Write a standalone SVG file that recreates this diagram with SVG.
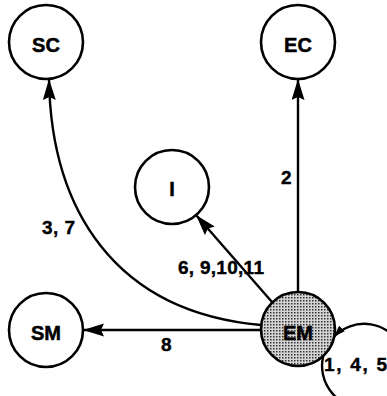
<svg xmlns="http://www.w3.org/2000/svg" width="387" height="396" viewBox="0 0 387 396">
<style>
.node{fill:#fff;stroke:#000;stroke-width:2.6}
.lbl{font-family:"Liberation Sans",Arial,sans-serif;font-weight:bold;font-size:20px;fill:#000;stroke:#000;stroke-width:0.5;text-anchor:middle}
.elbl{font-family:"Liberation Sans",Arial,sans-serif;font-weight:bold;font-size:19px;fill:#000;stroke:#000;stroke-width:0.4}
.edge{fill:none;stroke:#000;stroke-width:2.4}
</style>
<defs>
<marker id="arr" markerUnits="userSpaceOnUse" markerWidth="22" markerHeight="14" refX="21" refY="6.5" orient="auto">
<path d="M0,0 L21,6.5 L0,13 L3,6.5 z" fill="#000"/>
</marker>
<marker id="arrs" markerUnits="userSpaceOnUse" markerWidth="12" markerHeight="9" refX="11" refY="4" orient="auto">
<path d="M0,0 L11,4 L0,8 z" fill="#000"/>
</marker>
<pattern id="dots" patternUnits="userSpaceOnUse" width="3" height="3">
<rect width="3" height="3" fill="#d4d4d4"/>
<rect width="1.5" height="1.5" fill="#333"/>
</pattern>
</defs>
<g id="SC"><circle class="node" cx="46" cy="42" r="37"/><text class="lbl" x="46" y="52">SC</text></g>
<g id="EC"><circle class="node" cx="298" cy="42" r="37"/><text class="lbl" x="298" y="52">EC</text></g>
<g id="I"><circle class="node" cx="172" cy="187" r="37"/><text class="lbl" x="172" y="196">I</text></g>
<g id="SM"><circle class="node" cx="46" cy="330" r="37"/><text class="lbl" x="46" y="340">SM</text></g>
<g id="EM"><circle class="node" cx="298" cy="329" r="37" style="fill:url(#dots)"/><text class="lbl" x="298" y="340">EM</text></g>
<g id="connectors">
<path class="edge" d="M261,325 C115,312 51,210 49,79" marker-end="url(#arr)"/>
<path class="edge" d="M298,292 L298,79" marker-end="url(#arr)"/>
<path class="edge" d="M272,302 L196,215" marker-end="url(#arr)"/>
<path class="edge" d="M261,330 L83,330" marker-end="url(#arr)"/>
<path class="edge" d="M323.2,356.1 A42,42 0 1 0 334.2,336.3" marker-end="url(#arrs)"/>
<text class="elbl" x="42" y="234" textLength="33" lengthAdjust="spacing">3, 7</text>
<text class="elbl" x="281" y="184">2</text>
<text class="elbl" x="178" y="274" textLength="86" lengthAdjust="spacing">6, 9,10,11</text>
<text class="elbl" x="161" y="351">8</text>
<text class="elbl" x="324" y="371" textLength="63" lengthAdjust="spacing">1, 4, 5</text>
</g>
</svg>
